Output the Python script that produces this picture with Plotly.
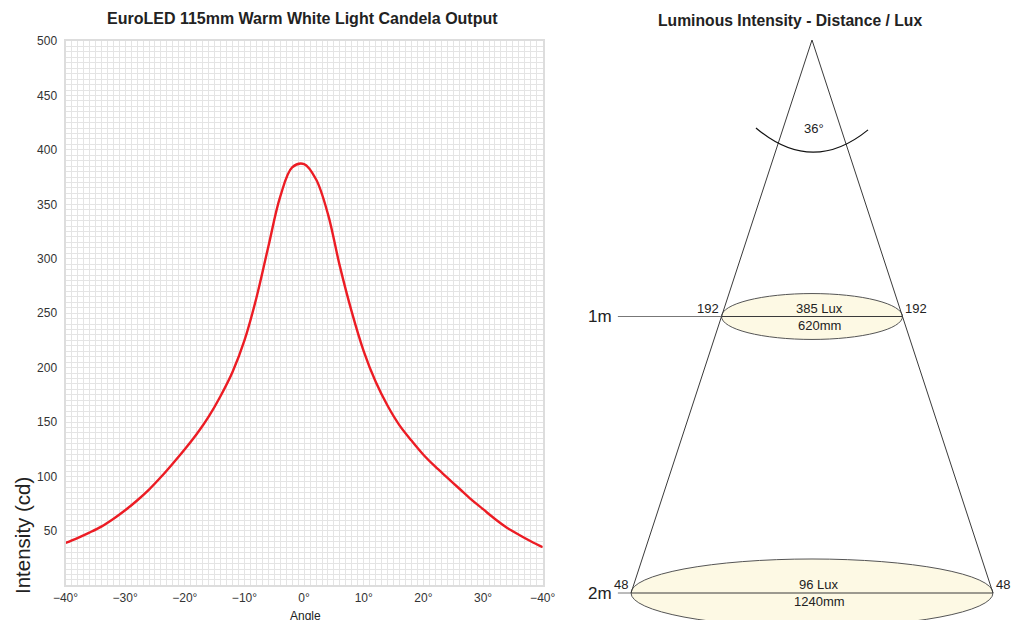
import plotly.graph_objects as go

# ---------------- data ----------------
angles = [-40, -38, -36, -34, -32, -30, -28, -26, -24, -22, -20, -18, -16, -14, -12, -10,
          -8, -6, -4, -2, 0, 2, 4, 6, 8, 10, 12, 14, 16, 18, 20, 22, 24, 26, 28, 30,
          32, 34, 36, 38, 40]
intensity = [39, 43.5, 48.5, 54, 61, 69, 78, 88, 99.5, 112, 125, 139, 155, 174, 196, 225,
             264, 311, 357, 384, 387, 373, 341, 293, 251, 215, 187, 165, 147, 133, 120, 109, 99, 89, 79, 70,
             61, 53, 46.5, 40.5, 35]
x_tick_vals = [-40, -30, -20, -10, 0, 10, 20, 30, 40]
x_tick_text = ["−40°", "−30°", "−20°", "−10°", "0°", "10°", "20°", "30°", "−40°"]
y_tick_vals = [50, 100, 150, 200, 250, 300, 350, 400, 450, 500]

distances_m = [1, 2]
distance_labels = ["1m", "2m"]
lux = [385, 96]
diameters_mm = [620, 1240]
edge_values = [192, 48]
beam_angle = 36

# ---------------- style ----------------
PAGE_W, PAGE_H = 1027, 620
OFF = 8                       # page body margin in the browser
W, H = PAGE_W - OFF, PAGE_H - OFF
FONT = "Liberation Sans, Arial, sans-serif"
RED = "#ec1c24"
GRID = "#e4e4e4"
CREAM = "#fdf9e4"
DARK = "#3a3a3a"
ELLIPSE_RY = [0.083, 0.123]   # vertical half size of ellipses (m units)
LEADER_X = -665               # left end of leader lines (mm units)


def px(x):
    return (x - OFF) / W


def py(y):
    return 1 - (y - OFF) / H


# right diagram scale (page pixels): apex at y=40, 276.5 px per metre;
# 0.2919 px per mm, centred at x=812
APEX_Y, PX_PER_M = 40, 276.5
CX, PX_PER_MM = 812, 0.2919
D2_LEFT, D2_TOP = 575, 30

fig = go.Figure()

# ---------- left chart ----------
fig.add_trace(go.Scatter(
    x=angles, y=intensity, mode="lines",
    line=dict(color=RED, width=2.4, shape="spline", smoothing=1.0),
    xaxis="x", yaxis="y", hoverinfo="skip", showlegend=False))

# ---------- right diagram ----------
half_far = diameters_mm[-1] / 2
fig.add_trace(go.Scatter(
    x=[-half_far, 0, half_far], y=[distances_m[-1], 0, distances_m[-1]],
    mode="lines", line=dict(color=DARK, width=1),
    xaxis="x2", yaxis="y2", hoverinfo="skip", showlegend=False))

shapes = []
annotations = []
for i, d in enumerate(distances_m):
    half = diameters_mm[i] / 2
    ry = ELLIPSE_RY[i]
    shapes.append(dict(type="circle", xref="x2", yref="y2",
                       x0=-half, x1=half, y0=d - ry, y1=d + ry,
                       fillcolor=CREAM, line=dict(color="#555555", width=1),
                       layer="below"))
    shapes.append(dict(type="line", xref="x2", yref="y2",
                       x0=LEADER_X, x1=-half, y0=d, y1=d,
                       line=dict(color="#777777", width=1)))
    shapes.append(dict(type="line", xref="x2", yref="y2",
                       x0=-half, x1=half, y0=d, y1=d,
                       line=dict(color=DARK, width=1)))
    annotations += [
        dict(xref="x2", yref="y2", x=LEADER_X, y=d, text=distance_labels[i],
             xanchor="right", yanchor="middle", xshift=-4, showarrow=False,
             font=dict(size=17, color="#222222", family=FONT)),
        dict(xref="x2", yref="y2", x=-half, y=d, text=str(edge_values[i]),
             xanchor="right", yanchor="bottom", xshift=-1, yshift=-1, showarrow=False,
             font=dict(size=13, color="#222222", family=FONT)),
        dict(xref="x2", yref="y2", x=half, y=d, text=str(edge_values[i]),
             xanchor="left", yanchor="bottom", xshift=1, yshift=-1, showarrow=False,
             font=dict(size=13, color="#222222", family=FONT)),
        dict(xref="x2", yref="y2", x=0, y=d, text=f"{lux[i]} Lux",
             xanchor="center", yanchor="bottom", xshift=7, yshift=-1, showarrow=False,
             font=dict(size=13, color="#222222", family=FONT)),
        dict(xref="x2", yref="y2", x=0, y=d, text=f"{diameters_mm[i]}mm",
             xanchor="center", yanchor="top", xshift=7, yshift=1, showarrow=False,
             font=dict(size=13, color="#222222", family=FONT)),
    ]

# beam-angle arc
shapes.append(dict(type="path", xref="x2", yref="y2",
                   path="M -192,0.318 Q 0,0.49 192,0.325",
                   line=dict(color="#111111", width=1.2)))
annotations.append(dict(xref="x2", yref="y2", x=0, y=0.32, text=f"{beam_angle}°",
                        xanchor="center", yanchor="middle", xshift=2, showarrow=False,
                        font=dict(size=13, color="#222222", family=FONT)))

# titles and axis titles
annotations += [
    dict(xref="paper", yref="paper", x=px(302), y=py(18),
         text="<b>EuroLED 115mm Warm White Light Candela Output</b>",
         showarrow=False, xanchor="center", yanchor="middle",
         font=dict(size=16, color="#222222", family=FONT)),
    dict(xref="paper", yref="paper", x=px(790), y=py(20),
         text="<b>Luminous Intensity - Distance / Lux</b>",
         showarrow=False, xanchor="center", yanchor="middle",
         font=dict(size=15.7, color="#222222", family=FONT)),
    dict(xref="paper", yref="paper", x=px(22), y=py(536),
         text="Intensity (cd)", textangle=-90,
         showarrow=False, xanchor="center", yanchor="middle",
         font=dict(size=20.5, color="#222222", family=FONT)),
    dict(xref="paper", yref="paper", x=px(305), y=py(616),
         text="Angle", showarrow=False, xanchor="center", yanchor="middle",
         font=dict(size=12, color="#222222", family=FONT)),
]

fig.update_layout(
    width=W, height=H, autosize=False,
    margin=dict(l=0, r=0, t=0, b=0, pad=0, autoexpand=False),
    paper_bgcolor="white", plot_bgcolor="white",
    font=dict(family=FONT, size=12, color="#333333"),
    showlegend=False,
    xaxis=dict(domain=[px(65.5), px(542.7)], range=[-40, 40], automargin=False,
               tickmode="array", tickvals=x_tick_vals, ticktext=x_tick_text,
               showgrid=True, gridcolor=GRID, gridwidth=1, zeroline=False,
               showline=True, linecolor="#dddddd", linewidth=2, mirror=True,
               ticks="", ticklabelstandoff=0,
               tickfont=dict(size=12, color="#333333", family=FONT),
               minor=dict(tickmode="linear", tick0=-40, dtick=1, showgrid=True,
                          gridcolor=GRID, gridwidth=1),
               fixedrange=True),
    yaxis=dict(domain=[py(585.4), py(41)], range=[0, 500], automargin=False,
               tickmode="array", tickvals=y_tick_vals,
               showgrid=True, gridcolor=GRID, gridwidth=1, zeroline=False,
               showline=True, linecolor="#dddddd", linewidth=2, mirror=True,
               ticks="", ticklabelstandoff=4,
               tickfont=dict(size=12, color="#333333", family=FONT),
               minor=dict(tickmode="linear", tick0=0, dtick=5, showgrid=True,
                          gridcolor=GRID, gridwidth=1),
               fixedrange=True),
    xaxis2=dict(domain=[px(D2_LEFT), 1.0],
                range=[(D2_LEFT - CX) / PX_PER_MM, (PAGE_W - CX) / PX_PER_MM],
                visible=False, showgrid=False, zeroline=False, anchor="y2", automargin=False),
    yaxis2=dict(domain=[0.0, py(D2_TOP)],
                range=[(PAGE_H - APEX_Y) / PX_PER_M, (D2_TOP - APEX_Y) / PX_PER_M],
                visible=False, showgrid=False, zeroline=False, anchor="x2", automargin=False),
    shapes=shapes,
    annotations=annotations,
)

fig.write_html("out.html")
